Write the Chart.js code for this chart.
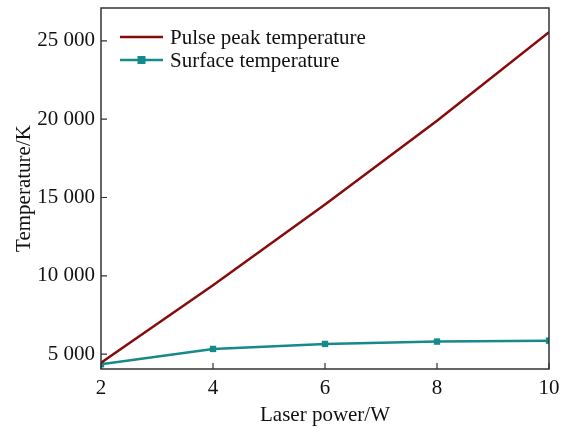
<!DOCTYPE html>
<html>
<head>
<meta charset="utf-8">
<script src="https://cdn.jsdelivr.net/npm/chart.js@4.4.1/dist/chart.umd.min.js"></script>
<style>
  html, body { margin: 0; padding: 0; background: #fff; }
  #wrap { width: 568px; height: 428px; position: relative; }
</style>
</head>
<body>
<div id="wrap"><canvas id="chart"></canvas></div>
<script>
const laserPower = [2, 4, 6, 8, 10];
const pulsePeakTemp = [4450, 9400, 14550, 19900, 25550];
const surfaceTemp = [4350, 5330, 5650, 5800, 5860];
const xTicks = [2, 4, 6, 8, 10];
const yTicks = [5000, 10000, 15000, 20000, 25000];

const seriesNames = ["Pulse peak temperature", "Surface temperature"];
const RED = "#860b0b";
const TEAL = "#16898a";
const AXIS = "#333333";
const FONT = "'Liberation Serif', 'Times New Roman', serif";
const FS = 21;

const fmt = (v) => String(v).replace(/\B(?=(\d{3})+(?!\d))/g, " ");

// frame, inward ticks and the in-plot legend
const framePlugin = {
  id: "frame",
  afterDraw(chart) {
    const { ctx, chartArea: a, scales } = chart;
    ctx.save();
    ctx.strokeStyle = AXIS;
    ctx.lineWidth = 1.5;
    ctx.strokeRect(a.left, a.top, a.right - a.left, a.bottom - a.top);
    ctx.lineWidth = 1.2;
    ctx.beginPath();
    scales.x.ticks.forEach((t) => {
      const px = scales.x.getPixelForValue(t.value);
      ctx.moveTo(px, a.bottom);
      ctx.lineTo(px, a.bottom - 6);
    });
    scales.y.ticks.forEach((t) => {
      const py = scales.y.getPixelForValue(t.value);
      ctx.moveTo(a.left, py);
      ctx.lineTo(a.left + 6, py);
    });
    ctx.stroke();

    // legend
    const rows = [
      { color: RED, marker: false },
      { color: TEAL, marker: true },
    ];
    ctx.font = FS + "px " + FONT;
    ctx.textBaseline = "middle";
    rows.forEach((r, i) => {
      const y = a.top + 29 + i * 23;
      const x0 = a.left + 19;
      const x1 = a.left + 62;
      ctx.strokeStyle = r.color;
      ctx.lineWidth = 2.5;
      ctx.beginPath();
      ctx.moveTo(x0, y);
      ctx.lineTo(x1, y);
      ctx.stroke();
      if (r.marker) {
        ctx.fillStyle = r.color;
        ctx.fillRect((x0 + x1) / 2 - 4, y - 4, 8, 8);
      }
      ctx.fillStyle = "#111";
      ctx.fillText(seriesNames[i], a.left + 69, y + 1);
    });
    ctx.restore();
  },
};

new Chart(document.getElementById("chart"), {
  type: "line",
  data: {
    datasets: [
      {
        label: seriesNames[0],
        data: laserPower.map((x, i) => ({ x, y: pulsePeakTemp[i] })),
        borderColor: RED,
        borderWidth: 2.5,
        pointRadius: 0,
        tension: 0,
      },
      {
        label: seriesNames[1],
        data: laserPower.map((x, i) => ({ x, y: surfaceTemp[i] })),
        borderColor: TEAL,
        backgroundColor: TEAL,
        borderWidth: 2.5,
        pointStyle: "rect",
        pointRadius: 4.5,
        pointBorderWidth: 0,
        tension: 0,
      },
    ],
  },
  options: {
    responsive: true,
    maintainAspectRatio: false,
    animation: false,
    layout: { padding: { left: 12, right: 19, top: 8, bottom: 0 } },
    plugins: { legend: { display: false }, tooltip: { enabled: false } },
    scales: {
      x: {
        type: "linear",
        min: 2,
        max: 10,
        afterBuildTicks: (s) => { s.ticks = xTicks.map((v) => ({ value: v })); },
        afterFit: (s) => { s.height = 59; s.paddingLeft = 0; s.paddingRight = 0; },
        grid: { display: false, drawTicks: false },
        border: { display: false },
        ticks: {
          padding: 7,
          color: "#111",
          font: { family: FONT, size: FS },
          callback: (v) => fmt(v),
        },
        title: {
          display: true,
          text: "Laser power/W",
          color: "#111",
          font: { family: FONT, size: FS },
          padding: { top: 0, bottom: 0 },
        },
      },
      y: {
        min: 4050,
        max: 27100,
        afterBuildTicks: (s) => { s.ticks = yTicks.map((v) => ({ value: v })); },
        afterFit: (s) => { s.width = 89; s.paddingTop = 0; s.paddingBottom = 0; },
        grid: { display: false, drawTicks: false },
        border: { display: false },
        ticks: {
          padding: 6,
          color: "#111",
          font: { family: FONT, size: FS },
          callback: (v) => fmt(v),
        },
        title: {
          display: true,
          text: "Temperature/K",
          color: "#111",
          font: { family: FONT, size: FS },
          padding: { top: 0, bottom: 0 },
        },
      },
    },
  },
  plugins: [framePlugin],
});
</script>
</body>
</html>
